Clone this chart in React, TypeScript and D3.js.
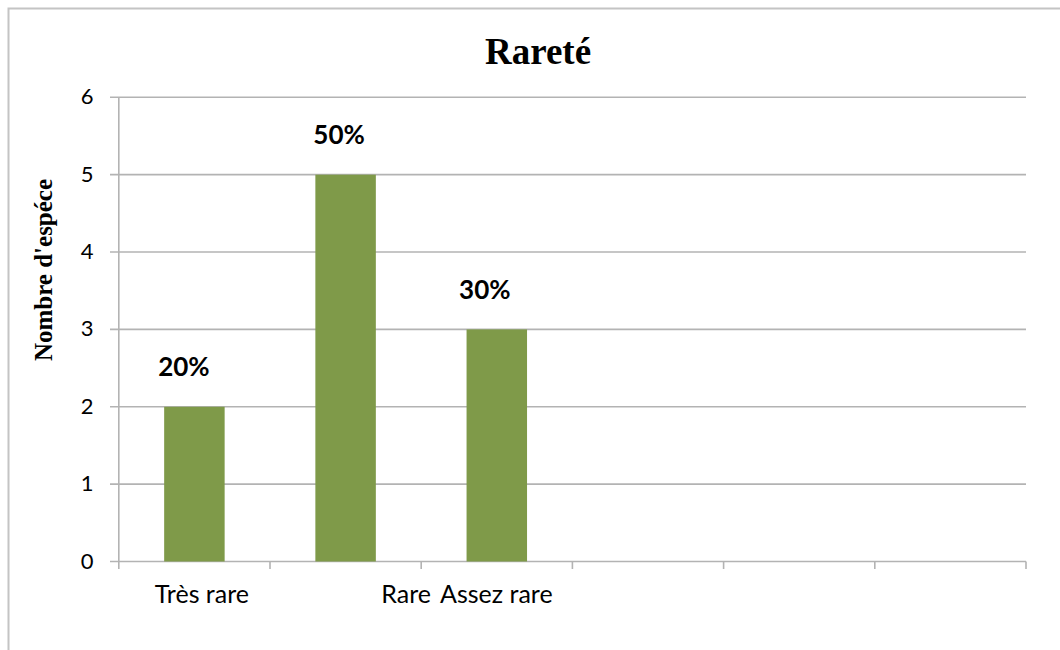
import React from "react";
import * as d3 from "d3";

// Rareté des espèces: nombre d'espèces par classe de rareté
const categories = ["Très rare", "Rare", "Assez rare", "", "", ""];
const values = [2, 5, 3];
const yTicks = [0, 1, 2, 3, 4, 5, 6];
const title = "Rareté";
const yTitle = "Nombre d'espéce";

// Layout tweaks for the category labels and the percentage labels
const catLabelShift = [7.5, 60.5, -0.5, 0, 0, 0];
const pctLabelShift = [-10.5, -6.5, -12];

const W = 1060;
const H = 650;
const left = 118.8;
const right = 1026;
const top = 97.3;
const bottom = 561.5;

const SANS = "Lato, 'Open Sans', sans-serif";
const SERIF = "'Liberation Serif', 'DejaVu Serif', serif";

export default function App() {
  const x = d3.scaleBand<string>()
    .domain(categories.map((_, i) => String(i)))
    .range([left, right])
    .paddingInner(0)
    .paddingOuter(0);
  const y = d3.scaleLinear().domain([0, 6]).range([bottom, top]);

  const band = x.bandwidth();
  const barW = band * 0.4;
  const total = d3.sum(values);
  const edges = d3.range(categories.length + 1).map((i) => left + i * band);

  return (
    <svg
      width={W}
      height={H}
      style={{ position: "absolute", left: 0, top: 0, background: "#fff" }}
    >
      <rect x={0} y={0} width={W} height={H} fill="#fff" />
      {/* chart frame */}
      <rect
        x={8.5}
        y={8.5}
        width={1200}
        height={800}
        fill="none"
        stroke="#c4c4c4"
        strokeWidth={2}
      />

      {/* title */}
      <text
        x={538}
        y={63.5}
        textAnchor="middle"
        fontFamily={SERIF}
        fontWeight="bold"
        fontSize={37}
        fill="#000"
      >
        {title}
      </text>

      {/* gridlines and y ticks */}
      {yTicks.map((t) => (
        <g key={t}>
          <line
            x1={110}
            x2={right}
            y1={y(t)}
            y2={y(t)}
            stroke="#b3b3b3"
            strokeWidth={1.6}
          />
          <text
            x={93.5}
            y={y(t) + 7}
            textAnchor="end"
            fontFamily={SANS}
            fontSize={22}
            fill="#000"
          >
            {t}
          </text>
        </g>
      ))}

      {/* y axis */}
      <line x1={left} x2={left} y1={top} y2={bottom} stroke="#b3b3b3" strokeWidth={1.6} />

      {/* x axis ticks */}
      {edges.map((e, i) => (
        <line
          key={i}
          x1={e}
          x2={e}
          y1={bottom}
          y2={bottom + 7.5}
          stroke="#b3b3b3"
          strokeWidth={1.6}
        />
      ))}

      {/* bars */}
      {values.map((v, i) => {
        const cx = (x(String(i)) as number) + band / 2;
        return (
          <g key={i}>
            <rect
              x={cx - barW / 2}
              y={y(v)}
              width={barW}
              height={y(0) - y(v)}
              fill="#7f9a49"
            />
            <text
              x={cx + pctLabelShift[i]}
              y={y(v) - 30.5}
              textAnchor="middle"
              fontFamily={SANS}
              fontWeight="bold"
              fontSize={26}
              fill="#000"
            >
              {`${Math.round((v / total) * 100)}%`}
            </text>
          </g>
        );
      })}

      {/* category labels */}
      {categories.map((c, i) =>
        c ? (
          <text
            key={i}
            x={(x(String(i)) as number) + band / 2 + catLabelShift[i]}
            y={603}
            textAnchor="middle"
            fontFamily={SANS}
            fontSize={25}
            fill="#000"
          >
            {c}
          </text>
        ) : null
      )}

      {/* y axis title */}
      <text
        transform="translate(52,270) rotate(-90)"
        textAnchor="middle"
        fontFamily={SERIF}
        fontWeight="bold"
        fontSize={25}
        fill="#000"
      >
        {yTitle}
      </text>
    </svg>
  );
}
